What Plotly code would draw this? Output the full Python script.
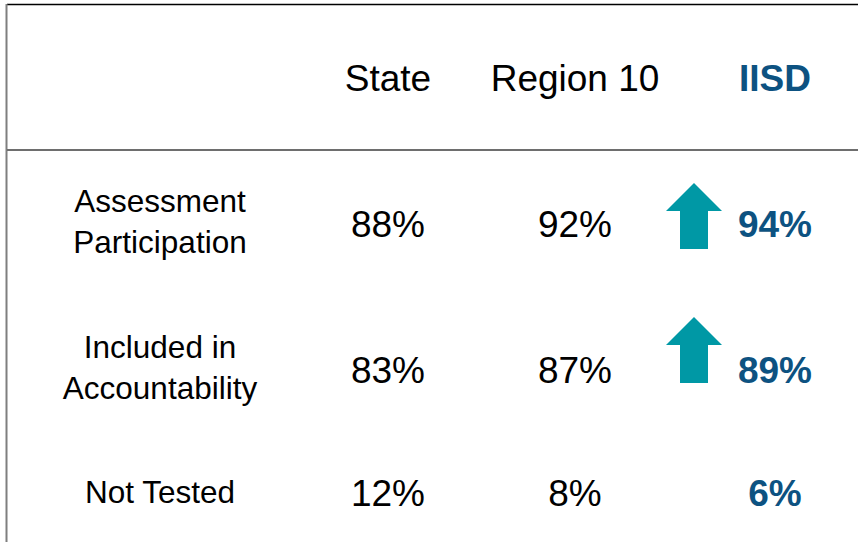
import plotly.graph_objects as go

# ---- data ----
columns = ["State", "Region 10", "IISD"]
row_labels = ["Assessment<br>Participation", "Included in<br>Accountability", "Not Tested"]
state_vals = ["88%", "83%", "12%"]
region_vals = ["92%", "87%", "8%"]
iisd_vals = ["94%", "89%", "6%"]
iisd_up = [True, True, False]

# ---- layout constants ----
W, H = 858, 542
col_x = {"label": 160, "State": 388, "Region 10": 575, "IISD": 775}
header_y = 82
row_y = [228, 374, 497]
label_y = [225, 371, 495]
arrow_top = [183, 317, None]
BLUE = "#0D5281"
TEAL = "#0098A5"
FONT = "Liberation Sans, Arial, sans-serif"

fig = go.Figure()

# header
fig.add_trace(go.Scatter(
    x=[col_x[c] for c in columns], y=[header_y] * len(columns),
    mode="text", text=[c if c != "IISD" else "<b>IISD</b>" for c in columns],
    textfont=dict(family=FONT, size=37, color=["#000000", "#000000", BLUE]),
    hoverinfo="skip", showlegend=False))

# row labels
fig.add_trace(go.Scatter(
    x=[col_x["label"]] * len(row_labels), y=label_y, mode="text", text=row_labels,
    textfont=dict(family=FONT, size=31.5, color="#000000"),
    hoverinfo="skip", showlegend=False))

# state & region values
for col, vals in (("State", state_vals), ("Region 10", region_vals)):
    fig.add_trace(go.Scatter(
        x=[col_x[col]] * len(vals), y=row_y, mode="text", text=vals,
        textfont=dict(family=FONT, size=37, color="#000000"),
        hoverinfo="skip", showlegend=False))

# IISD values
fig.add_trace(go.Scatter(
    x=[col_x["IISD"]] * len(iisd_vals), y=row_y, mode="text",
    text=["<b>%s</b>" % v for v in iisd_vals],
    textfont=dict(family=FONT, size=37, color=BLUE),
    hoverinfo="skip", showlegend=False))

# arrows
shapes = []
ax = 694
for up, tip in zip(iisd_up, arrow_top):
    if not up:
        continue
    sh = tip + 28
    bot = tip + 66
    path = (f"M {ax} {tip} L {ax+28} {sh} L {ax+14} {sh} L {ax+14} {bot} "
            f"L {ax-14} {bot} L {ax-14} {sh} L {ax-28} {sh} Z")
    shapes.append(dict(type="path", path=path, fillcolor=TEAL,
                       line=dict(width=0), layer="above"))

# border lines
shapes.append(dict(type="line", x0=7, x1=W, y0=4.5, y1=4.5,
                   line=dict(color="#000000", width=1.5)))
shapes.append(dict(type="line", x0=6.5, x1=6.5, y0=4, y1=H,
                   line=dict(color="#7F7F7F", width=2)))
shapes.append(dict(type="line", x0=7, x1=W, y0=150, y1=150,
                   line=dict(color="#6E6E6E", width=2)))

fig.update_layout(
    width=W, height=H, margin=dict(l=0, r=0, t=0, b=0),
    paper_bgcolor="white", plot_bgcolor="white",
    xaxis=dict(range=[0, W], visible=False, fixedrange=True),
    yaxis=dict(range=[H, 0], visible=False, fixedrange=True),
    shapes=shapes, showlegend=False)

fig.write_html("out.html", config={"displayModeBar": False},
               post_script="document.body.style.margin='0';document.body.style.overflow='hidden';")
